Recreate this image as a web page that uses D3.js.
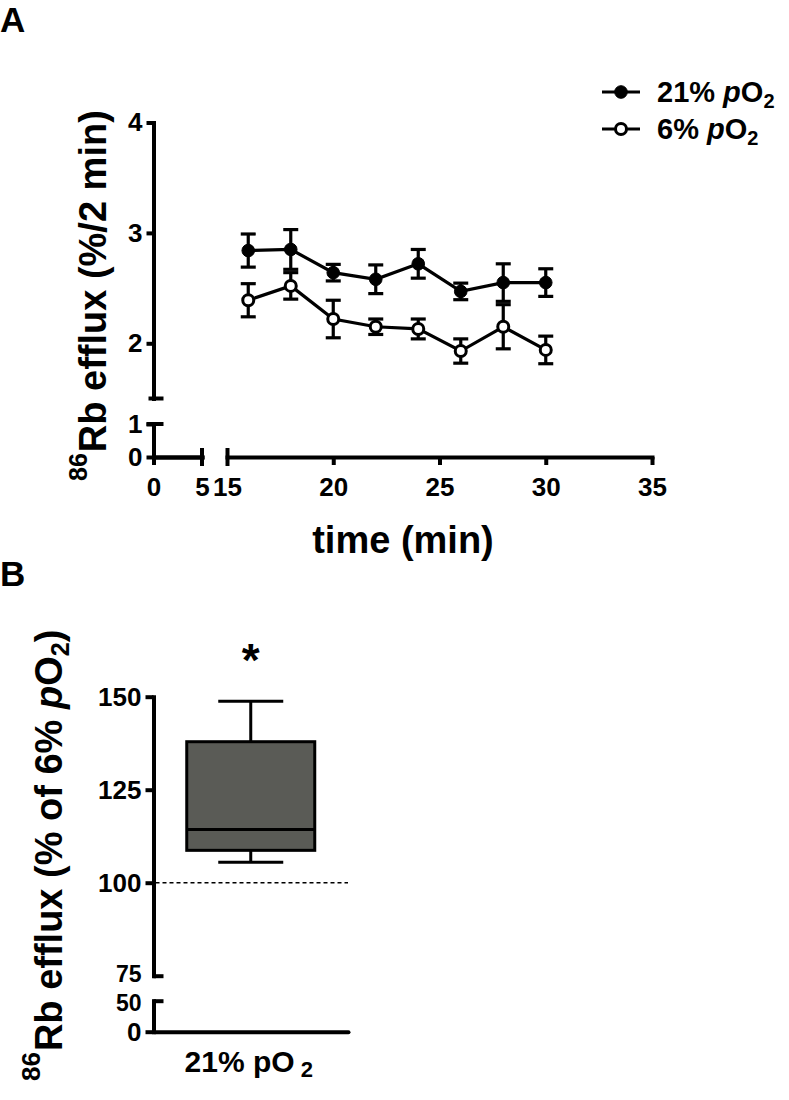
<!DOCTYPE html>
<html><head><meta charset="utf-8">
<script src="https://cdn.jsdelivr.net/npm/d3@7"></script>
<style>
body{margin:0;background:#fff;}
svg{font-family:"Liberation Sans",Arial,sans-serif;font-weight:bold;}
</style></head>
<body>
<svg id="c" width="789" height="1100"></svg>
<script>
// ---------- data: panel A ----------
const times = [16, 18, 20, 22, 24, 26, 28, 30];
const mean21 = [2.84, 2.85, 2.64, 2.58, 2.72, 2.47, 2.55, 2.55];
const sem21  = [0.15, 0.18, 0.075, 0.13, 0.13, 0.075, 0.17, 0.125];
const mean6  = [2.39, 2.52, 2.22, 2.15, 2.13, 1.93, 2.15, 1.94];
const sem6   = [0.15, 0.12, 0.17, 0.07, 0.09, 0.11, 0.20, 0.125];
const xTicksLow = [0, 5];
const xTicksHigh = [15, 20, 25, 30, 35];
const yTicksHigh = [2, 3, 4];
const yTicksLow = [0, 1];
const seriesNames = ["21% ", "6% "];
// ---------- data: panel B ----------
const boxCategory = ["21% pO2"];
const boxStats = {whiskerLow: 105.5, q1: 108.7, median: 114.3, q3: 137.9, whiskerHigh: 148.8};
const yTicksBHigh = [75, 100, 125, 150];
const yTicksBLow = [0, 50];
const refLine = 100;

const svg = d3.select("#c");
const AW = 4;
const fmt = d3.format("d");
const TFS = 26;

// ---------- Panel A ----------
const xA1 = d3.scaleLinear().domain([0, 5]).range([153.5, 202]);
const xA2 = d3.scaleLinear().domain([15, 35]).range([227, 652]);
const yA1 = d3.scaleLinear().domain([1.5, 4]).range([398.5, 122.5]);
const yA0 = d3.scaleLinear().domain([0, 1]).range([457, 424]);
const axisY = 457, axisX = 153.5;

function styleAxis(g, fs){
  g.selectAll("path.domain").attr("stroke", "#000").attr("stroke-width", AW).attr("stroke-linecap","square");
  g.selectAll(".tick line").attr("stroke", "#000").attr("stroke-width", AW);
  g.selectAll(".tick text").attr("fill", "#000").attr("font-size", fs).style("font-size", fs + "px").style("font-weight", "bold")
   .style("font-family", '"Liberation Sans",Arial,sans-serif');
}

// x axes
const gx1 = svg.append("g").attr("transform", `translate(0,${axisY})`)
  .call(d3.axisBottom(xA1).tickValues([xTicksLow[0]]).tickFormat(fmt).tickSize(8).tickSizeOuter(0).tickPadding(13));
styleAxis(gx1, TFS);
const gx1b = svg.append("g").attr("transform", `translate(0,${axisY})`)
  .call(d3.axisBottom(xA1).tickValues([xTicksLow[1]]).tickFormat(fmt).tickSize(0).tickSizeOuter(0).tickPadding(21));
styleAxis(gx1b, TFS);
const gx2 = svg.append("g").attr("transform", `translate(0,${axisY})`)
  .call(d3.axisBottom(xA2).tickValues(xTicksHigh).tickFormat(fmt).tickSize(8).tickSizeOuter(0).tickPadding(13));
styleAxis(gx2, TFS);
gx2.selectAll(".tick").filter(d => d === 15).select("line").attr("y1", -9).attr("y2", 9);
gx2.selectAll(".tick").filter(d => d === 15).select("text").attr("y", 21);
// break cap at 5
svg.append("line").attr("x1", xA1(5)).attr("x2", xA1(5)).attr("y1", axisY - 9).attr("y2", axisY + 9)
  .attr("stroke", "#000").attr("stroke-width", AW);

// y axes
const gy1 = svg.append("g").attr("transform", `translate(${axisX},0)`)
  .call(d3.axisLeft(yA1).tickValues(yTicksHigh).tickFormat(fmt).tickSize(7).tickSizeOuter(0).tickPadding(4));
styleAxis(gy1, TFS);
svg.append("line").attr("x1", axisX - 5).attr("x2", axisX + 10).attr("y1", yA1(1.5)).attr("y2", yA1(1.5))
  .attr("stroke", "#000").attr("stroke-width", AW);
const gy0 = svg.append("g").attr("transform", `translate(${axisX},0)`)
  .call(d3.axisLeft(yA0).tickValues(yTicksLow).tickFormat(fmt).tickSize(7).tickSizeOuter(0).tickPadding(4));
styleAxis(gy0, TFS);
svg.append("line").attr("x1", axisX - 7).attr("x2", axisX + 10).attr("y1", yA0(1)).attr("y2", yA0(1))
  .attr("stroke", "#000").attr("stroke-width", AW);

// series
const series = [
  {name: seriesNames[0], mean: mean21, sem: sem21, fill: "#000"},
  {name: seriesNames[1], mean: mean6, sem: sem6, fill: "#fff"}
];
const capW = 7.5;
series.forEach(s => {
  const pts = times.map((t, i) => ({t, m: s.mean[i], e: s.sem[i]}));
  const eg = svg.append("g").attr("stroke", "#000").attr("stroke-width", 3.2);
  pts.forEach(p => {
    const x = xA2(p.t);
    eg.append("line").attr("x1", x).attr("x2", x).attr("y1", yA1(p.m + p.e)).attr("y2", yA1(p.m - p.e));
    eg.append("line").attr("x1", x - capW).attr("x2", x + capW).attr("y1", yA1(p.m + p.e)).attr("y2", yA1(p.m + p.e));
    eg.append("line").attr("x1", x - capW).attr("x2", x + capW).attr("y1", yA1(p.m - p.e)).attr("y2", yA1(p.m - p.e));
  });
});
series.forEach(s => {
  const pts = times.map((t, i) => ({t, m: s.mean[i]}));
  svg.append("path").datum(pts)
    .attr("d", d3.line().x(d => xA2(d.t)).y(d => yA1(d.m)))
    .attr("fill", "none").attr("stroke", "#000").attr("stroke-width", 3.2);
});
series.forEach(s => {
  const pts = times.map((t, i) => ({t, m: s.mean[i]}));
  svg.append("g").selectAll("circle").data(pts).join("circle")
    .attr("cx", d => xA2(d.t)).attr("cy", d => yA1(d.m))
    .attr("r", s.fill === "#000" ? 6.3 : 5.5)
    .attr("fill", s.fill).attr("stroke", "#000").attr("stroke-width", s.fill === "#000" ? 1 : 3);
});

// legend
series.forEach((s, i) => {
  const y = 92 + i * 37;
  svg.append("line").attr("x1", 602).attr("x2", 640).attr("y1", y).attr("y2", y)
    .attr("stroke", "#000").attr("stroke-width", 3.2);
  svg.append("circle").attr("cx", 621).attr("cy", y).attr("r", s.fill === "#000" ? 6.3 : 5.5)
    .attr("fill", s.fill).attr("stroke", "#000").attr("stroke-width", s.fill === "#000" ? 1 : 3);
  const t = svg.append("text").attr("x", 657).attr("y", y + 10).style("font-size", "29px");
  t.append("tspan").text(s.name);
  t.append("tspan").style("font-style", "italic").text("p");
  t.append("tspan").text("O");
  t.append("tspan").style("font-size", "20px").attr("dy", 6).text("2");
});

// axis titles A
svg.append("text").attr("x", 403).attr("y", 553).attr("text-anchor", "middle")
  .style("font-size", "38px").text("time (min)");
const tA = svg.append("text").attr("transform", "translate(106,481) rotate(-90)").style("font-size", "38px");
tA.append("tspan").style("font-size", "25px").attr("dy", -19).text("86");
tA.append("tspan").attr("dy", 19).attr("dx", 1).text("Rb efflux (%/2 min)");

// panel letters
svg.append("text").attr("x", 0).attr("y", 32).style("font-size", "35px").text("A");
svg.append("text").attr("x", 0).attr("y", 586).style("font-size", "35px").text("B");

// ---------- Panel B ----------
const xB = d3.scaleBand().domain(boxCategory).range([153.5, 348]);
const yB1 = d3.scaleLinear().domain([75, 150]).range([975.7, 696.7]);
const yB0 = d3.scaleLinear().domain([0, 50]).range([1031.7, 1000.7]);
const bAxisY = 1031.7;

const gyB1 = svg.append("g").attr("transform", `translate(${axisX},0)`)
  .call(d3.axisLeft(yB1).tickValues(yTicksBHigh).tickFormat(fmt).tickSize(8).tickSizeOuter(0).tickPadding(4));
styleAxis(gyB1, TFS);
gyB1.selectAll(".tick").filter(d => d === 75).select("line").attr("x2", 10);
gyB1.selectAll(".tick").filter(d => d === 75).select("text").attr("y", -2).style("font-size", "23px");
const gyB0 = svg.append("g").attr("transform", `translate(${axisX},0)`)
  .call(d3.axisLeft(yB0).tickValues(yTicksBLow).tickFormat(fmt).tickSize(8).tickSizeOuter(0).tickPadding(4));
styleAxis(gyB0, TFS);
gyB0.selectAll(".tick").filter(d => d === 50).select("line").attr("x2", 10);
gyB0.selectAll(".tick").filter(d => d === 50).select("text").attr("y", 2).style("font-size", "23px");

// x axis B
const gxB = svg.append("g").attr("transform", `translate(0,${bAxisY})`)
  .call(d3.axisBottom(xB).tickSize(0).tickSizeOuter(0).tickFormat(() => ""));
styleAxis(gxB, 28);
gxB.select("path.domain").attr("stroke-linecap", "round");
const cx = xB(boxCategory[0]) + xB.bandwidth() / 2;
const lab = svg.append("text").attr("x", cx - 2).attr("y", 1072).attr("text-anchor", "middle").style("font-size", "30px");
lab.append("tspan").text("21% pO");
lab.append("tspan").attr("dx", 6).attr("dy", 5).style("font-size", "22px").text("2");

// reference line
svg.append("line").attr("x1", axisX + 2).attr("x2", 348).attr("y1", yB1(refLine)).attr("y2", yB1(refLine))
  .attr("stroke", "#000").attr("stroke-width", 1.4).attr("stroke-dasharray", "4,3");

// box
const bw = 128, ww = 65;
const bg = svg.append("g").attr("stroke", "#000").attr("stroke-width", 3);
bg.append("line").attr("x1", cx).attr("x2", cx).attr("y1", yB1(boxStats.whiskerHigh)).attr("y2", yB1(boxStats.q3));
bg.append("line").attr("x1", cx - ww/2).attr("x2", cx + ww/2).attr("y1", yB1(boxStats.whiskerHigh)).attr("y2", yB1(boxStats.whiskerHigh));
bg.append("line").attr("x1", cx).attr("x2", cx).attr("y1", yB1(boxStats.q1)).attr("y2", yB1(boxStats.whiskerLow));
bg.append("line").attr("x1", cx - ww/2).attr("x2", cx + ww/2).attr("y1", yB1(boxStats.whiskerLow)).attr("y2", yB1(boxStats.whiskerLow));
bg.append("rect").attr("x", cx - bw/2).attr("width", bw).attr("y", yB1(boxStats.q3))
  .attr("height", yB1(boxStats.q1) - yB1(boxStats.q3)).attr("fill", "#5a5b56");
bg.append("line").attr("x1", cx - bw/2).attr("x2", cx + bw/2).attr("y1", yB1(boxStats.median)).attr("y2", yB1(boxStats.median));

// asterisk
svg.append("text").attr("x", cx).attr("y", 676).attr("text-anchor", "middle").style("font-size", "46px").text("*");

// y title B
const tB = svg.append("g").attr("transform", "translate(62,1081) rotate(-90)");
const tBt = tB.append("text").style("font-size", "38px");
tBt.append("tspan").style("font-size", "26px").attr("dy", -22).text("86");
tBt.append("tspan").attr("dy", 22).attr("dx", 1).text("Rb efflux (% of 6%  ");
tBt.append("tspan").style("font-style", "italic").text("p");
tBt.append("tspan").text("O");
tBt.append("tspan").style("font-size", "25px").attr("dy", 7).text("2");
tBt.append("tspan").attr("dy", -7).text(")");
</script>
</body></html>
